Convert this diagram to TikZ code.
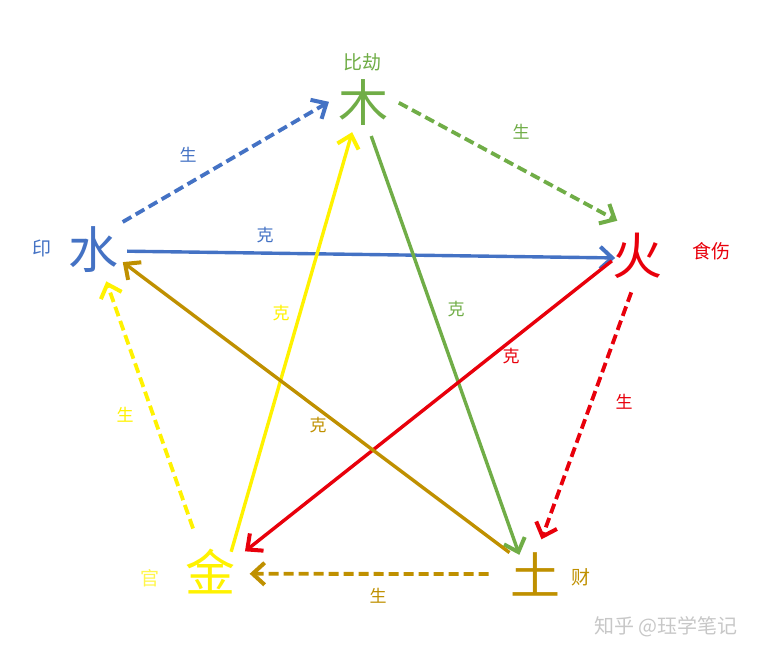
\documentclass[tikz,border=0pt]{standalone}
\usepackage{fontspec}
\setmainfont{Noto Sans CJK SC}
\usetikzlibrary{positioning, arrows.meta}

\definecolor{shuiblue}{HTML}{4472C4}
\definecolor{mugreen}{HTML}{70AD47}
\definecolor{huored}{HTML}{E8000B}
\definecolor{jinyellow}{HTML}{FFF200}
\definecolor{tugold}{HTML}{BF9000}

\tikzset{
	elem/.style={circle, minimum size=64pt, inner sep=0pt, font=\fontsize{50}{50}\selectfont},
	tag/.style={inner sep=1pt, font=\fontsize{19}{19}\selectfont},
	rel/.style={inner sep=1pt, font=\fontsize{17}{17}\selectfont},
	sheng/.style={line width=3.8pt, dash pattern=on 10pt off 5pt, -{Straight Barb[length=12pt, width=22pt, line width=4pt]}},
	ke/.style={line width=3.4pt, -{Straight Barb[length=12pt, width=22pt, line width=4pt]}},
}

\begin{document}
\begin{tikzpicture}[x=1pt, y=-1pt]
	\useasboundingbox (0,0) rectangle (766,657);
	% five elements
	\node[elem, text=mugreen] (mu) at (363,103) {木};
	\node[elem, text=huored] (huo) at (637,256) {火};
	\node[elem, text=tugold] (tu) at (535,574) {土};
	\node[elem, text=jinyellow] (jin) at (210,572) {金};
	\node[elem, text=shuiblue] (shui) at (93,250) {水};
	% ten gods
	\node[tag, text=mugreen] (bijie) at (362,62) {比劫};
	\node[tag, text=huored] (shishang) at (711,251) {食伤};
	\node[tag, text=tugold] (cai) at (581,577) {财};
	\node[tag, text=jinyellow!70!white] (guan) at (150,578) {官};
	\node[tag, text=shuiblue] (yin) at (42,248) {印};

	% generating cycle
	\draw[sheng, shuiblue, shorten <=7pt] (shui.46) -- (mu.178);
	\draw[sheng, mugreen, shorten <=2pt, shorten >=8pt] (mu.2) -- (huo.112);
	\draw[sheng, huored, shorten <=3pt, shorten >=2pt] (huo.262) -- (tu.80);
	\draw[sheng, tugold, shorten <=13pt, shorten >=6pt] (tu.180) -- (jin.357);
	\draw[sheng, jinyellow, shorten <=13pt] (jin.112) -- (shui.293);
	\node[rel, text=shuiblue] (s1) at (188,155) {生};
	\node[rel, text=mugreen] (s2) at (521,132) {生};
	\node[rel, text=huored] (s3) at (624,402) {生};
	\node[rel, text=tugold] (s4) at (378,596) {生};
	\node[rel, text=jinyellow] (s5) at (125,415) {生};

	% controlling cycle
	\draw[ke, shuiblue, shorten >=-12pt] (shui.358) -- (huo.183);
	\draw[ke, mugreen, shorten >=-9pt] (mu.284) -- (tu.124);
	\draw[ke, huored, shorten <=-9pt, shorten >=7pt] (huo.198) -- (jin.29);
	\draw[ke, jinyellow, shorten <=-5pt, shorten >=-3pt] (jin.48) -- (mu.250);
	\draw[ke, tugold, shorten >=-2pt] (tu.140) -- (shui.337);
	\node[rel, text=shuiblue] (k1) at (265,235) {克};
	\node[rel, text=mugreen] (k2) at (456,309) {克};
	\node[rel, text=huored] (k3) at (511,356) {克};
	\node[rel, text=jinyellow] (k4) at (281,313) {克};
	\node[rel, text=tugold] (k5) at (318,425) {克};

	\node[font=\fontsize{20}{20}\selectfont, text=black!22] (mark) at (666,627) {知乎 @珏学笔记};
\end{tikzpicture}
\end{document}
